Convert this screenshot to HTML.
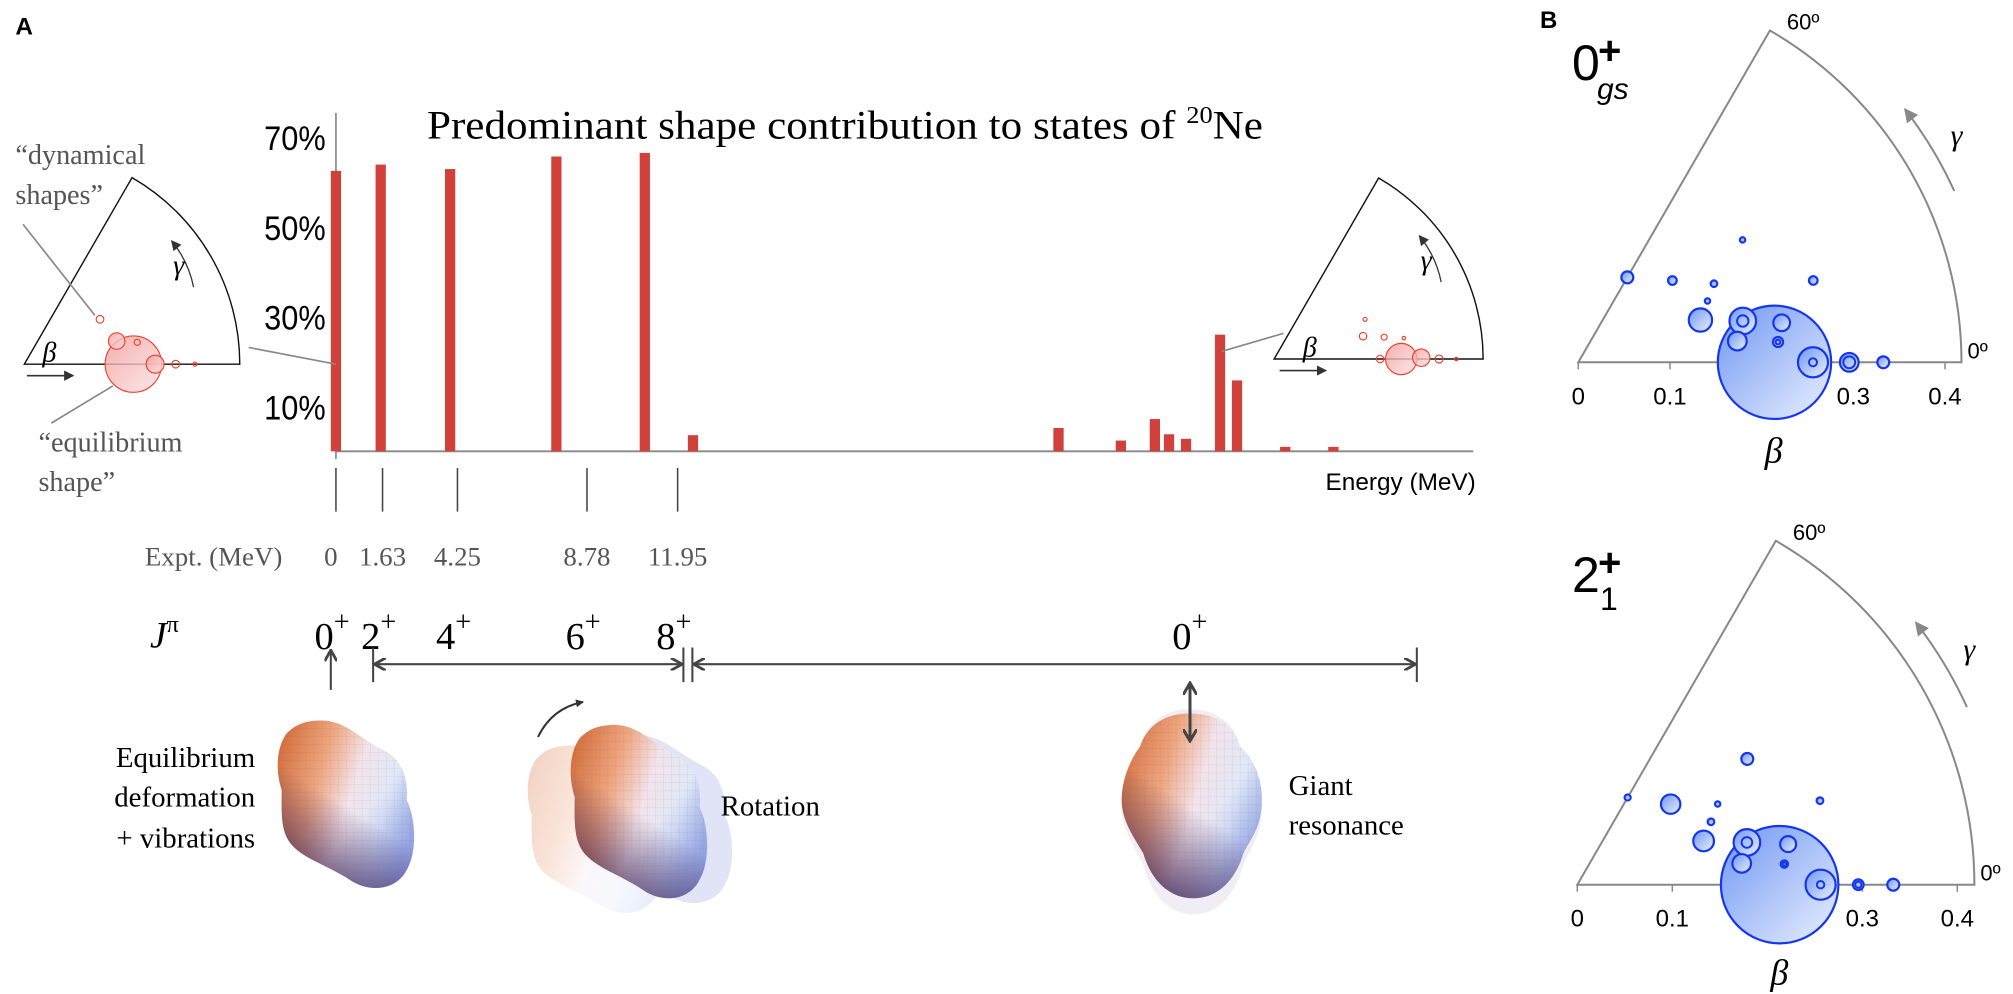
<!DOCTYPE html>
<html><head><meta charset="utf-8"><title>Predominant shape contribution to states of 20Ne</title>
<style>
html,body{margin:0;padding:0;background:#fff;}
svg{display:block;}
.serif{font-family:"Liberation Serif",serif;}
.sans{font-family:"Liberation Sans",sans-serif;}
</style></head>
<body>
<svg id="fig" width="2013" height="994" viewBox="0 0 2013 994" xmlns="http://www.w3.org/2000/svg">
<defs>
  <linearGradient id="blobG" x1="0" y1="0.2" x2="1" y2="0.6">
    <stop offset="0" stop-color="#d4703f"/>
    <stop offset="0.3" stop-color="#eea47e"/>
    <stop offset="0.55" stop-color="#f3e4ec"/>
    <stop offset="0.8" stop-color="#dfe8f8"/>
    <stop offset="1" stop-color="#b8c8ee"/>
  </linearGradient>
  <linearGradient id="blobDark" x1="0.7" y1="0.1" x2="0.25" y2="1">
    <stop offset="0.45" stop-color="#3a1a4a" stop-opacity="0"/>
    <stop offset="1" stop-color="#3a1a4a" stop-opacity="0.8"/>
  </linearGradient>
  <linearGradient id="blobBlue" x1="0" y1="0" x2="1" y2="1">
    <stop offset="0.6" stop-color="#5a6ad0" stop-opacity="0"/>
    <stop offset="1" stop-color="#5a6ad0" stop-opacity="0.6"/>
  </linearGradient>
  <pattern id="mesh" width="24" height="24" patternUnits="userSpaceOnUse">
    <path d="M0 0 L24 0 M0 0 L0 24" stroke="#666" stroke-width="1.2" fill="none" opacity="0.35"/>
  </pattern>
  <linearGradient id="blueG" x1="0" y1="0" x2="1" y2="1">
    <stop offset="0" stop-color="#6f96f2"/>
    <stop offset="1" stop-color="#eaf0ff"/>
  </linearGradient>
  <linearGradient id="redG" x1="0" y1="0" x2="1" y2="1">
    <stop offset="0" stop-color="#f29a9a"/>
    <stop offset="1" stop-color="#fbe3e3"/>
  </linearGradient>
  <marker id="ah" markerWidth="10" markerHeight="10" refX="8" refY="5" orient="auto-start-reverse" markerUnits="userSpaceOnUse">
    <path d="M0 0 L9 5 L0 10" fill="none" stroke="#444" stroke-width="2.2"/>
  </marker>
  <marker id="ahb" markerWidth="14" markerHeight="14" refX="11" refY="7" orient="auto-start-reverse" markerUnits="userSpaceOnUse">
    <path d="M0 0 L12 7 L0 14" fill="none" stroke="#444" stroke-width="3"/>
  </marker>
  <marker id="ahs" markerWidth="8" markerHeight="8" refX="7" refY="4" orient="auto" markerUnits="userSpaceOnUse">
    <path d="M0 0 L8 4 L0 8 Z" fill="#333"/>
  </marker>
  <marker id="ahg" markerWidth="14" markerHeight="14" refX="12" refY="7" orient="auto" markerUnits="userSpaceOnUse">
    <path d="M0 0 L14 7 L0 14 Z" fill="#888"/>
  </marker>
  <path id="blobL" d="M 200 122 C 280 115 320 170 400 210 C 460 240 475 300 470 360 C 500 420 500 520 470 570 C 440 630 360 640 300 600 C 240 560 170 540 130 500 C 90 460 95 400 95 330 C 75 270 80 200 110 160 C 140 130 170 124 200 122 Z"/>
  <path id="blobR" d="M 330 160 C 420 160 470 210 480 260 C 530 300 550 380 545 430 C 545 500 510 540 490 580 C 470 650 420 715 340 715 C 260 715 210 650 190 580 C 160 530 125 480 125 420 C 125 360 150 300 180 260 C 200 200 250 160 330 160 Z"/>
</defs>

<!-- ====== 3D shapes (real coords) ====== -->
<g transform="translate(250,680) scale(0.3333)">
  <use href="#blobL" fill="url(#blobG)"/>
  <use href="#blobL" fill="url(#blobBlue)"/>
  <use href="#blobL" fill="url(#blobDark)"/>
  <use href="#blobL" fill="url(#mesh)"/>
</g>
<g>
  <g transform="translate(500,705) scale(0.3333)" opacity="0.3"><use href="#blobL" fill="url(#blobG)"/></g>
  <g transform="translate(568,695) scale(0.3333)" opacity="0.3"><use href="#blobL" fill="#9aa6e0"/></g>
  <g transform="translate(543,683) scale(0.3333,0.345)">
    <use href="#blobL" fill="url(#blobG)"/>
    <use href="#blobL" fill="url(#blobBlue)"/>
    <use href="#blobL" fill="url(#blobDark)"/>
    <use href="#blobL" fill="url(#mesh)"/>
  </g>
  <path d="M538 737 Q552 708 583 702" fill="none" stroke="#333" stroke-width="2" marker-end="url(#ahs)"/>
</g>
<g>
  <g transform="translate(1080,650) scale(0.3333,0.37)" opacity="0.25"><use href="#blobR" fill="#c9b8d8"/></g>
  <g transform="translate(1080,660) scale(0.3333)">
    <use href="#blobR" fill="url(#blobG)"/>
    <use href="#blobR" fill="url(#blobBlue)"/>
    <use href="#blobR" fill="url(#blobDark)"/>
    <use href="#blobR" fill="url(#mesh)"/>
  </g>
  <line x1="1190" y1="684" x2="1190" y2="740" stroke="#444" stroke-width="3" marker-end="url(#ahb)" marker-start="url(#ahb)"/>
</g>

<!-- ====== Panel A (perceived coords scaled) ====== -->
<g id="panelA" transform="scale(1.2822)">
  <text class="sans" x="12" y="27" font-size="19" font-weight="bold">A</text>
  <text class="serif" x="333" y="108" font-size="31" textLength="652" lengthAdjust="spacingAndGlyphs">Predominant shape contribution to states of <tspan font-size="19" dy="-12">20</tspan><tspan dy="12">Ne</tspan></text>
  <line x1="262" y1="88" x2="262" y2="358" stroke="#888" stroke-width="1.3"/>
  <line x1="262" y1="352" x2="1149" y2="352" stroke="#888" stroke-width="1.5"/>
  <g id="yticks"></g>
  <g id="bars"></g>
  <text class="sans" x="1151" y="382" font-size="19" text-anchor="end">Energy (MeV)</text>

  <g id="expt"></g>
  <text class="serif" x="113" y="441" font-size="21" fill="#555">Expt. (MeV)</text>

  <text class="serif" x="117" y="505" font-size="29" font-style="italic">J<tspan font-size="19" dy="-12" font-style="normal">π</tspan></text>
  <g id="jpi"></g>

  <g stroke="#444" stroke-width="1.6" fill="none">
    <line x1="258" y1="538" x2="258" y2="508" marker-end="url(#ah)"/>
    <line x1="291" y1="505" x2="291" y2="532"/>
    <line x1="533" y1="505" x2="533" y2="532"/>
    <line x1="293" y1="518" x2="531" y2="518" marker-start="url(#ah)" marker-end="url(#ah)"/>
    <line x1="540" y1="505" x2="540" y2="532"/>
    <line x1="1105" y1="505" x2="1105" y2="532"/>
    <line x1="542" y1="518" x2="1103" y2="518" marker-start="url(#ah)" marker-end="url(#ah)"/>
  </g>

  <g class="serif" font-size="22.5">
    <text x="199" y="598" text-anchor="end">Equilibrium</text>
    <text x="199" y="629" text-anchor="end">deformation</text>
    <text x="199" y="661" text-anchor="end">+ vibrations</text>
    <text x="562" y="636">Rotation</text>
    <text x="1005" y="620">Giant</text>
    <text x="1005" y="651">resonance</text>
  </g>

  <g id="insetL"></g>
  <g class="serif" font-size="22" fill="#555">
    <text x="12" y="128">“dynamical</text>
    <text x="12" y="159">shapes”</text>
    <text x="30" y="352">“equilibrium</text>
    <text x="30" y="383">shape”</text>
  </g>
  <g stroke="#888" stroke-width="1.3">
    <line x1="18" y1="175" x2="74" y2="246"/>
    <line x1="88" y1="301" x2="40" y2="330"/>
    <line x1="194" y1="271" x2="262" y2="284"/>
    <line x1="953" y1="274" x2="1001" y2="260"/>
  </g>
  <g id="insetR"></g>
</g>

<!-- ====== Panel B (real coords) ====== -->
<text class="sans" x="1540" y="28" font-size="24" font-weight="bold">B</text>
<g id="panelTop"></g>
<g id="panelBot"></g>
<text class="sans" x="1572" y="80" font-size="50">0</text>
<text class="sans" x="1598" y="64" font-size="40" font-weight="bold">+</text>
<text class="sans" x="1597" y="99" font-size="30" font-style="italic">gs</text>
<text class="sans" x="1572" y="592" font-size="50">2</text>
<text class="sans" x="1598" y="576" font-size="40" font-weight="bold">+</text>
<text class="sans" x="1600" y="610" font-size="32">1</text>

<script>
// ---- Panel A bar data ----
const energies = [0, 1.58, 4.03, 7.78, 10.9, 12.6, 25.5, 27.7, 28.9, 29.4, 30.0, 31.2, 31.8, 33.5, 35.2];
const shapeVals = [62.5, 63.9, 62.9, 65.7, 66.5, 3.6, 5.2, 2.4, 7.2, 3.8, 2.8, 26, 15.8, 1.0, 1.0];
const yTickVals = [70, 50, 30, 10];
const yTickLabels = ['70%', '50%', '30%', '10%'];
const exptEnergies = [0, 1.63, 4.25, 8.78, 11.95];
const exptLabels = ['0', '1.63', '4.25', '8.78', '11.95'];
const jpiLabels = ['0', '2', '4', '6', '8', '0'];
const jpiEnergies = [0, 1.63, 4.25, 8.78, 11.95, 30.0];

// ---- Panel B data (beta, gamma in degrees, radius in beta units, inner ring radius) ----
const betaTop  = [0.214, 0.185, 0.226, 0.175, 0.219, 0.256, 0.2956, 0.3327, 0.141, 0.156, 0.171, 0.136, 0.107, 0.2235, 0.2714];
const gammaTop = [0, 14.1, 11, 7.6, 5.8, 0, 0, 0, 19.1, 25.4, 30.1, 41, 60, 36.7, 19.2];
const sizeTop  = [0.0618, 0.0145, 0.0091, 0.0102, 0.0055, 0.0164, 0.0102, 0.0065, 0.0127, 0.0029, 0.0036, 0.0047, 0.0065, 0.0029, 0.0047];
const ringTop  = [0, 0.0062, 0, 0, 0.0025, 0.0044, 0.0065, 0, 0, 0, 0, 0, 0, 0, 0];
const betaBot  = [0.213, 0.184, 0.226, 0.1745, 0.219, 0.2561, 0.2958, 0.3326, 0.1407, 0.1555, 0.1704, 0.1298, 0.106, 0.2226, 0.2703];
const gammaBot = [0, 14, 10.9, 7.4, 5.7, 0, 0, 0, 19.1, 25.2, 29.9, 40.8, 60, 36.5, 19.1];
const sizeBot  = [0.0618, 0.014, 0.0084, 0.0098, 0.0039, 0.0158, 0.0056, 0.0063, 0.0109, 0.0035, 0.0028, 0.0102, 0.0032, 0.0063, 0.0035];
const ringBot  = [0, 0.0056, 0, 0, 0.0018, 0.0039, 0.0032, 0, 0, 0, 0, 0, 0, 0, 0];
const betaTickVals = [0, 0.1, 0.2, 0.3, 0.4];
const betaTickLabels = ['0', '0.1', '0.2', '0.3', '0.4'];

// ---- Insets (dx, dy in beta units, radius) ----
const insetLdx = [0.2125, 0.18, 0.22, 0.255, 0.295, 0.3325, 0.1475];
const insetLdy = [0, 0.045, 0.0425, 0, 0, 0, 0.0875];
const insetLs  = [0.055, 0.016, 0.006, 0.0175, 0.0075, 0.004, 0.0075];
const insetRdx = [0.2557, 0.296, 0.2134, 0.332, 0.3666, 0.179, 0.2214, 0.261, 0.183];
const insetRdy = [0, 0.0026, 0, 0, 0, 0.046, 0.044, 0.042, 0.080];
const insetRs  = [0.0315, 0.0175, 0.0075, 0.008, 0.0035, 0.0075, 0.006, 0.0035, 0.004];

const NS = 'http://www.w3.org/2000/svg';
function mk(tag, attrs, parent) {
  const e = document.createElementNS(NS, tag);
  for (const k in attrs) e.setAttribute(k, attrs[k]);
  parent.appendChild(e);
  return e;
}
const xE = e => 262 + e * 22.1;
const yV = v => 352 - v * 3.5;

const yt = document.getElementById('yticks');
yTickVals.forEach((v, i) => {
  const t = mk('text', {x: 254, y: yV(v) + 10, 'font-size': 27, 'text-anchor': 'end', 'font-family': '"Liberation Sans", sans-serif', 'textLength': 48, 'lengthAdjust': 'spacingAndGlyphs'}, yt);
  
  
  t.textContent = yTickLabels[i];
});

const bg = document.getElementById('bars');
energies.forEach((e, i) => {
  const r = mk('rect', {x: xE(e) - 4, y: yV(shapeVals[i]), width: 8, height: 352 - yV(shapeVals[i]), fill: '#d0413b'}, bg);
  
  
});

const ex = document.getElementById('expt');
exptEnergies.forEach((e, i) => {
  const x = 262 + e * 22.3;
  const l = mk('line', {x1: x, y1: 365, x2: x, y2: 399, stroke: '#444', 'stroke-width': 1.2}, ex);
  
  
  const t = mk('text', {x: x + (i === 0 ? -4 : 0), y: 441, 'font-size': 21, 'text-anchor': 'middle', fill: '#555', 'font-family': '"Liberation Serif", serif'}, ex);
  
  
  t.textContent = exptLabels[i];
});

const jp = document.getElementById('jpi');
jpiLabels.forEach((s, i) => {
  const x = 262 + jpiEnergies[i] * 22.3 - 3;
  const t = mk('text', {x: x, y: 506, 'font-size': 30, 'text-anchor': 'middle', 'font-family': '"Liberation Serif", serif'}, jp);
  
  
  t.textContent = s;
  const p = mk('tspan', {'font-size': 22, dy: -14}, t);
  p.textContent = '+';
});

function wedge(g, ox, oy, R, col, sw) {
  const ax = ox + R * Math.cos(Math.PI / 3), ay = oy - R * Math.sin(Math.PI / 3);
  const p = mk('path', {d: `M${ox} ${oy} L${ax} ${ay} A${R} ${R} 0 0 1 ${ox + R} ${oy} Z`, fill: 'none', stroke: col, 'stroke-width': sw}, g);
  
  
}

function inset(id, ox, oy, R, scale, dxs, dys, ss, gammaPos, betaPos) {
  const g = document.getElementById(id);
  wedge(g, ox, oy, R, '#111', 1.1);
  dxs.forEach((dx, i) => {
    const c = mk('circle', {cx: ox + dx * scale, cy: oy - dys[i] * scale, r: ss[i] * scale, fill: ss[i] > 0.015 ? 'url(#redG)' : 'none', 'fill-opacity': 0.8, stroke: '#f0402e', 'stroke-width': 0.9}, g);
    
    
  });
  const a = mk('line', {x1: betaPos[0], y1: oy + 9, x2: betaPos[0] + 36, y2: oy + 9, stroke: '#333', 'stroke-width': 1.2, 'marker-end': 'url(#ahs)'}, g);
  
  
  const b = mk('text', {x: betaPos[1], y: oy - 2, 'font-size': 22, 'font-style': 'italic', 'font-family': '"Liberation Serif", serif'}, g);
  
  
  b.textContent = 'β';
  const gm = mk('text', {x: gammaPos[0], y: gammaPos[1], 'font-size': 22, 'font-style': 'italic', 'font-family': '"Liberation Serif", serif'}, g);
  
  
  gm.textContent = 'γ';
  const ga = mk('path', {d: `M${gammaPos[0] + 16} ${gammaPos[1] + 10} Q${gammaPos[0] + 12} ${gammaPos[1] - 10} ${gammaPos[0] - 1} ${gammaPos[1] - 26}`, fill: 'none', stroke: '#333', 'stroke-width': 1, 'marker-end': 'url(#ahs)'}, g);
  
  
}
inset('insetL', 19, 284, 168, 400, insetLdx, insetLdy, insetLs, [135, 214], [21, 33]);
inset('insetR', 993.7, 280, 163, 387.6, insetRdx, insetRdy, insetRs, [1108, 210], [998, 1016]);

function bgPlot(id, ox, oy, unit, betas, gammas, sizes, rings) {
  const g = document.getElementById(id);
  const R = 0.418 * unit;
  wedge(g, ox, oy, R, '#888', 2);
  betaTickVals.forEach((v, i) => {
    const x = ox + v * unit;
    const l = mk('line', {x1: x, y1: oy, x2: x, y2: oy + 7, stroke: '#888', 'stroke-width': 1.5}, g);
    
    
    const t = mk('text', {x: x, y: oy + 42, 'font-size': 24, 'text-anchor': 'middle', 'font-family': '"Liberation Sans", sans-serif'}, g);
    
    
    t.textContent = betaTickLabels[i];
  });
  betas.forEach((b, i) => {
    const th = gammas[i] * Math.PI / 180;
    const cx = ox + b * unit * Math.cos(th), cy = oy - b * unit * Math.sin(th);
    const c = mk('circle', {cx: cx, cy: cy, r: sizes[i] * unit, fill: 'url(#blueG)', stroke: '#1536f0', 'stroke-width': 2.2}, g);
    
    
    if (rings[i] > 0) {
      const r2 = mk('circle', {cx: cx, cy: cy, r: rings[i] * unit, fill: 'none', stroke: '#1536f0', 'stroke-width': 2}, g);
      
      
    }
  });
  const ax = ox + R * Math.cos(Math.PI / 3), ay = oy - R * Math.sin(Math.PI / 3);
  const t60 = mk('text', {x: ax + 17, y: ay - 1, 'font-size': 22, 'font-family': '"Liberation Sans", sans-serif'}, g);
  
  
  t60.textContent = '60º';
  const t0 = mk('text', {x: ox + R + 6, y: oy - 4, 'font-size': 22, 'font-family': '"Liberation Sans", sans-serif'}, g);
  
  
  t0.textContent = '0º';
  const bl = mk('text', {x: ox + 0.2 * unit + 12, y: oy + 100, 'font-size': 36, 'font-style': 'italic', 'text-anchor': 'middle', 'font-family': '"Liberation Serif", serif'}, g);
  
  
  bl.textContent = 'β';
  const r1 = R + 30 * unit / 916, a1 = 24.5 * Math.PI / 180, a2 = 37.7 * Math.PI / 180;
  const ga = mk('path', {d: `M${ox + r1 * Math.cos(a1)} ${oy - r1 * Math.sin(a1)} A${r1} ${r1} 0 0 0 ${ox + r1 * Math.cos(a2)} ${oy - r1 * Math.sin(a2)}`, fill: 'none', stroke: '#888', 'stroke-width': 2, 'marker-end': 'url(#ahg)'}, g);
  
  
  const rl = R + 58 * unit / 916, al = 31 * Math.PI / 180;
  const gl = mk('text', {x: ox + rl * Math.cos(al), y: oy - rl * Math.sin(al) + 10, 'font-size': 30, 'font-style': 'italic', 'text-anchor': 'middle', 'font-family': '"Liberation Serif", serif'}, g);
  
  
  gl.textContent = 'γ';
}
bgPlot('panelTop', 1578.3, 362.3, 916.7, betaTop, gammaTop, sizeTop, ringTop);
bgPlot('panelBot', 1577.3, 884.7, 950, betaBot, gammaBot, sizeBot, ringBot);
</script>
</svg>
</body></html>
